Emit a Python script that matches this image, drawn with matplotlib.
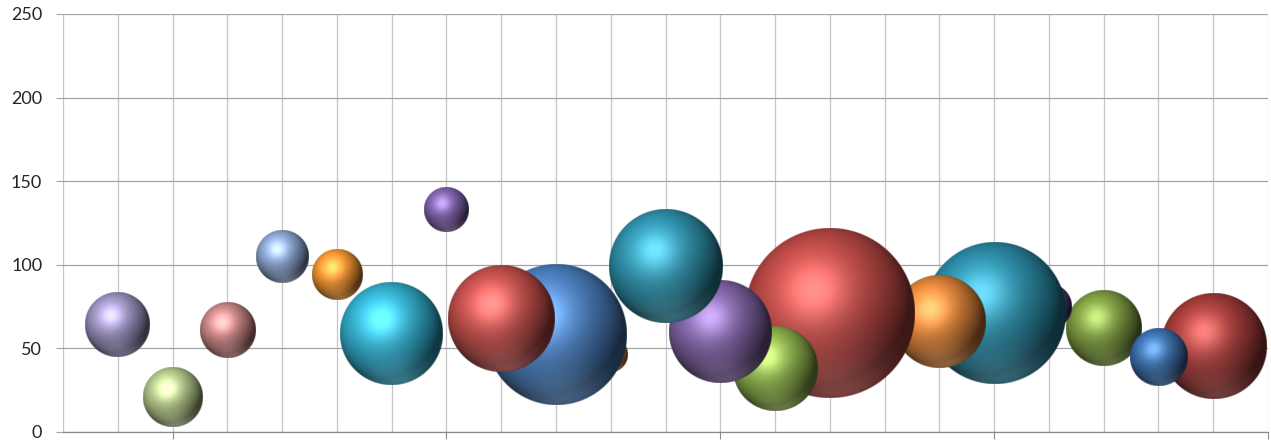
import numpy as np
import matplotlib
matplotlib.use("Agg")
import matplotlib.pyplot as plt
from matplotlib.colors import to_rgb
from matplotlib.ticker import MultipleLocator

# ---- data -------------------------------------------------------------
x_vals = [-1, 0, 1, 2, 3, 4, 5, 6, 7, 8, 9, 10, 11, 12, 14, 15, 16, 17, 18, 19]
y_vals = [64, 21, 61, 105, 94, 59, 133, 68, 58, 46, 99, 60, 38, 71, 66, 71, 75, 62, 45, 51]
bubble_sizes = [14.6, 12.2, 10.7, 9.6, 8.7, 36.4, 6.9, 39.3, 68.4, 4.0,
                44.7, 36.7, 25.0, 100.0, 29.3, 68.8, 6.7, 19.8, 11.6, 38.4]
y_ticks = [0, 50, 100, 150, 200, 250]

# ---- style ------------------------------------------------------------
bubble_colors = ["#9A90BE", "#B2C68A", "#C98484", "#8AA3CD", "#F1932F",
                 "#31AECD", "#7D5FA8", "#C24F4B", "#4A7FBF", "#D07A2A",
                 "#2E90AA", "#7E62A3", "#8DB04A", "#BA4844", "#DC8238",
                 "#2A8AA5", "#4E3A7A", "#7C9A3E", "#3A6EAA", "#A33B38"]
# back-to-front drawing sequence (indices into the data lists)
draw_sequence = [19, 17, 18, 16, 15, 14, 13, 12, 11, 10, 9, 8, 7, 6, 5, 4, 3, 2, 1, 0]
MAX_RADIUS_PX = 85.0

W, H, DPI = 1271, 441, 100
fig = plt.figure(figsize=(W / DPI, H / DPI), dpi=DPI)
ax = fig.add_axes([63 / W, (H - 432) / H, (1268 - 63) / W, (432 - 14) / H])

x_min, x_max = -2, 20
y_min, y_max = 0, 250


def sphere_rgba(color, r_px, ss=3):
    n = max(int(np.ceil(2 * r_px * ss)), 8)
    c = (np.arange(n) + 0.5) / n * 2 - 1
    u, v = np.meshgrid(c, -c)
    rho2 = u * u + v * v
    w = np.sqrt(np.clip(1 - rho2, 0, 1))

    def unit(vec):
        vec = np.asarray(vec, float)
        return vec / np.linalg.norm(vec)

    L = unit([-0.35, 0.5, 0.8])
    Hh = unit(L + np.array([0, 0, 1.0]))
    B = unit([0.1, -0.9, 0.4])

    d = np.clip(u * L[0] + v * L[1] + w * L[2], 0, 1)
    s = np.clip(u * Hh[0] + v * Hh[1] + w * Hh[2], 0, 1)
    refl = np.clip(u * B[0] + v * B[1] + w * B[2], 0, 1) ** 5

    base = np.array(to_rgb(color))
    tint = 0.45 * base + 0.55
    rgb = (base * (0.32 + 0.74 * d)[..., None]
           + refl[..., None] * 0.3 * (0.6 * base + 0.4)
           + (0.16 * s ** 6)[..., None] * tint
           + (0.26 * s ** 18)[..., None] * tint)
    rgb = np.clip(rgb, 0, 1)
    alpha = np.clip((1 - np.sqrt(rho2)) * r_px + 0.5, 0, 1)
    return np.dstack([rgb, alpha])


ax_w_px = ax.get_position().width * W
ax_h_px = ax.get_position().height * H
px_per_x = ax_w_px / (x_max - x_min)
px_per_y = ax_h_px / (y_max - y_min)

size_max = max(bubble_sizes)
for z, i in enumerate(draw_sequence):
    r_px = MAX_RADIUS_PX * np.sqrt(bubble_sizes[i] / size_max)
    rx = r_px / px_per_x
    ry = r_px / px_per_y
    img = sphere_rgba(bubble_colors[i], r_px)
    ax.imshow(img, extent=(x_vals[i] - rx, x_vals[i] + rx, y_vals[i] - ry, y_vals[i] + ry),
              origin="upper", interpolation="antialiased", zorder=3 + z)

ax.set_aspect("auto")
ax.set_xlim(x_min, x_max)
ax.set_ylim(y_min, y_max)

# grid
ax.set_axisbelow(True)
ax.xaxis.set_major_locator(MultipleLocator(5))
ax.xaxis.set_minor_locator(MultipleLocator(1))
ax.set_yticks(y_ticks)
ax.grid(True, which="major", axis="y", color="#A3A3A3", linewidth=0.9)
ax.grid(True, which="both", axis="x", color="#C6C6C6", linewidth=0.9)

for side in ["top", "right", "left"]:
    ax.spines[side].set_visible(False)
ax.spines["bottom"].set_color("#8A8A8A")
ax.spines["bottom"].set_linewidth(0.9)

ax.tick_params(axis="x", which="major", length=5, color="#8A8A8A", labelbottom=False)
ax.tick_params(axis="x", which="minor", length=0)
ax.tick_params(axis="y", which="major", length=5, color="#A3A3A3", pad=10,
               labelsize=13, labelcolor="#262626")
for lab in ax.get_yticklabels():
    lab.set_fontfamily(["Lato", "DejaVu Sans"])

fig.savefig("out.png", dpi=DPI)
